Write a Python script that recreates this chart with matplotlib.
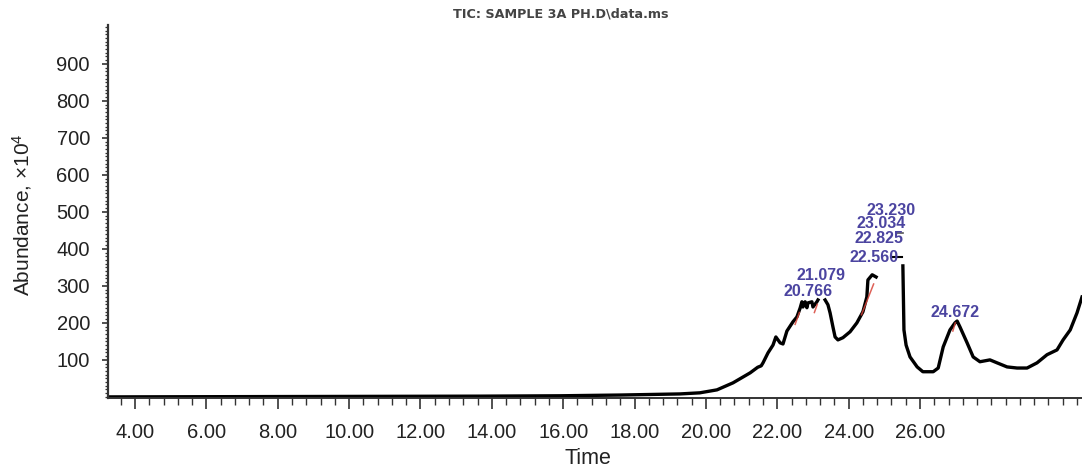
import matplotlib
matplotlib.use('Agg')
from matplotlib import pyplot as plt
from matplotlib.ticker import MultipleLocator
import numpy as np

# chromatogram trace (time axis as labelled, abundance x10^4), nan = gap in trace
time = [3.30, 13.67, 15.91, 17.59, 18.71, 19.27, 19.83, 20.31, 20.76, 21.24,
        21.45, 21.55, 21.60, 21.74, 21.88, 21.96, 22.08, 22.16, 22.27, 22.44, 22.55, 22.64,
        22.69, 22.72, 22.78, 22.83, 22.86, 22.97, 23.00, 23.11, 23.14, 23.24,
        23.34, 23.42, 23.48, 23.56, 23.62, 23.70, 23.84, 24.04, 24.23, 24.40,
        24.51, 24.54, 24.66, 24.77, 25.10,
        25.52, 25.55, 25.61, 25.72, 25.92, 26.08, 26.37, 26.51, 26.65, 26.84,
        26.98, 27.04, 27.12, 27.32, 27.49, 27.68, 27.96, 28.16, 28.44, 28.72,
        29.00, 29.28, 29.56, 29.84, 30.01, 30.21, 30.40, 30.54]
abundance = [0, 2, 3, 5, 7, 8, 11, 19, 38, 65,
             80, 84, 92, 119, 140, 162, 146, 143, 178, 203, 216, 240,
             257, 243, 257, 241, 254, 257, 243, 257, 262, np.nan,
             262, 249, 227, 189, 162, 154, 160, 176, 200, 230,
             270, 316, 330, 324, np.nan,
             354, 181, 140, 108, 81, 68, 68, 78, 135, 181,
             200, 205, 189, 146, 108, 95, 100, 92, 81, 78,
             78, 92, 114, 127, 154, 181, 227, 270]

# red integration marks
red_time = [[22.50, 22.62], [23.04, 23.12], [24.36, 24.70], [26.92, 26.99]]
red_abund = [[196, 228], [228, 250], [222, 305], [178, 200]]

# peak retention time labels
peak_labels = ['23.230', '23.034', '22.825', '22.560', '21.079', '20.766', '24.672']
label_x = [25.19, 24.91, 24.85, 24.71, 23.23, 22.86, 26.98]
label_y = [503, 468, 427, 376, 327, 284, 227]

xticks = np.arange(4, 27, 2)
yticks = np.arange(100, 1000, 100)

plt.rcParams['font.family'] = ['Liberation Sans', 'DejaVu Sans']
plt.rcParams['mathtext.default'] = 'regular'

fig = plt.figure(figsize=(10.82, 4.70), dpi=100)
ax = fig.add_axes([108 / 1082, 1 - 398 / 470, 1 - 108 / 1082, 373 / 470])

ax.plot(time, abundance, color='black', lw=2.4, solid_joinstyle='round')
for rt, ra in zip(red_time, red_abund):
    ax.plot(rt, ra, color='#d8453a', lw=1.1, alpha=0.85, zorder=3)
ax.plot([25.24, 25.50], [378, 378], color='black', lw=1.5)
ax.plot([25.36, 25.52], [443, 443], color='#555555', lw=1.2)

for s, x, y in zip(peak_labels, label_x, label_y):
    ax.text(x, y, s, ha='center', va='center', fontsize=11.5,
            fontweight='bold', color='#4b44a0')

ax.set_xlim(3.243, 30.54)
ax.set_ylim(-3, 1005)
ax.set_xticks(xticks)
ax.set_xticklabels(['%.2f' % v for v in xticks])
ax.set_yticks(yticks)
ax.xaxis.set_minor_locator(MultipleLocator(0.4))
ax.yaxis.set_minor_locator(MultipleLocator(10))
ax.tick_params(axis='x', which='major', length=8, width=1.2, pad=10, labelsize=14.5, colors='#333333')
ax.tick_params(axis='x', which='minor', length=5, width=1.0, colors='#333333')
ax.tick_params(axis='y', which='major', length=4, width=1.2, pad=9, labelsize=14.5, colors='#333333')
ax.tick_params(axis='y', which='minor', length=2.5, width=0.9, colors='#333333')
ax.tick_params(labelcolor='#222222')

for side in ['top', 'right']:
    ax.spines[side].set_visible(False)
ax.spines['left'].set_linewidth(1.6)
ax.spines['bottom'].set_linewidth(1.4)
ax.spines['left'].set_color('#333333')
ax.spines['bottom'].set_color('#333333')

fig.text(0.518, 1 - 14 / 470, 'TIC: SAMPLE 3A PH.D\\data.ms', ha='center', va='center',
         fontsize=9.2, fontweight='bold', color='#444444', family='DejaVu Sans')
fig.text(22 / 1082, 1 - 215 / 470, 'Abundance, ×10$^{4}$', rotation=90, ha='center',
         va='center', fontsize=15, color='#222222')
fig.text(588 / 1082, 1 - 458 / 470, 'Time', ha='center', va='center', fontsize=15.5,
         color='#222222')

fig.savefig('out.png', dpi=100)
